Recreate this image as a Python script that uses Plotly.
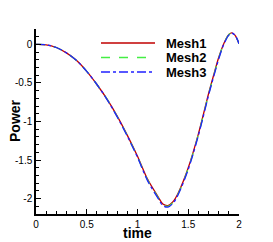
import plotly.graph_objects as go

time = [0, 0.1, 0.2, 0.3, 0.4, 0.5, 0.6, 0.7, 0.8, 0.9, 1.0, 1.1, 1.2, 1.25, 1.3,
        1.35, 1.4, 1.5, 1.6, 1.7, 1.75, 1.8, 1.85, 1.9, 1.93, 1.96, 2.0]
mesh1 = [0, -0.005, -0.04, -0.11, -0.21, -0.35, -0.52, -0.71, -0.93, -1.18, -1.45,
         -1.75, -1.97, -2.07, -2.09, -2.04, -1.93, -1.60, -1.16, -0.64, -0.40, -0.17,
         0.01, 0.13, 0.15, 0.12, 0.01]
mesh2 = [0, -0.005, -0.04, -0.11, -0.21, -0.35, -0.52, -0.71, -0.935, -1.185, -1.46,
         -1.76, -1.98, -2.08, -2.10, -2.05, -1.94, -1.61, -1.17, -0.65, -0.41, -0.18,
         0.005, 0.125, 0.148, 0.12, 0.01]
mesh3 = [0, -0.005, -0.04, -0.11, -0.21, -0.35, -0.52, -0.715, -0.94, -1.19, -1.465,
         -1.77, -1.99, -2.09, -2.11, -2.06, -1.95, -1.62, -1.18, -0.66, -0.42, -0.19,
         0.0, 0.12, 0.145, 0.12, 0.01]
series_names = ["Mesh1", "Mesh2", "Mesh3"]

x_ticks = [0, 0.5, 1, 1.5, 2]
x_labels = ["0", "0.5", "1", "1.5", "2"]
y_ticks = [0, -0.5, -1, -1.5, -2]
y_labels = ["0", "-0.5", "-1", "-1.5", "-2"]

colors = ["#c00000", "#44ee44", "#2020ff"]
dashes = ["solid", "dash", "dashdot"]
FONT = "Liberation Sans, Arial"

W, H = 273, 242
ML, MR, MT, MB = 36, 34, 29, 28
PW, PH = W - ML - MR, H - MT - MB


def px_x(px):
    return (px - ML) / PW


def px_y(py):
    return (H - MB - py) / PH


fig = go.Figure()
for name, vals, c, d in zip(series_names, [mesh1, mesh2, mesh3], colors, dashes):
    fig.add_trace(go.Scatter(x=time, y=vals, mode="lines", name=name,
                             line=dict(color=c, width=1.3, dash=d, shape="spline")))

# legend drawn manually (Tecplot style)
leg_rows = [43, 57.5, 72]
for name, c, d, ry in zip(series_names, colors, dashes, leg_rows):
    fig.add_shape(type="line", xref="paper", yref="paper",
                  x0=px_x(101), x1=px_x(155), y0=px_y(ry), y1=px_y(ry),
                  line=dict(color=c, width=1.3, dash=d))
    fig.add_annotation(xref="paper", yref="paper", x=px_x(164), y=px_y(ry),
                       xanchor="left", yanchor="middle", showarrow=False,
                       text="<b>" + name + "</b>",
                       font=dict(family=FONT, size=13, color="black"))

# axis titles
fig.add_annotation(xref="paper", yref="paper", x=px_x(137.5), y=px_y(233),
                   xanchor="center", yanchor="middle", showarrow=False,
                   text="<b>time</b>", font=dict(family=FONT, size=14, color="black"))
fig.add_annotation(xref="paper", yref="paper", x=px_x(15), y=px_y(121),
                   xanchor="center", yanchor="middle", showarrow=False, textangle=-90,
                   text="<b>Power</b>", font=dict(family=FONT, size=14, color="black"))

axis_common = dict(
    showline=True, linecolor="black", linewidth=1.5, mirror=False,
    showgrid=False, zeroline=False, automargin=False,
    ticks="inside", ticklen=5, tickwidth=1, tickcolor="black",
    tickfont=dict(family=FONT, size=10, color="black"),
)

fig.update_layout(
    width=W, height=H,
    margin=dict(l=ML, r=MR, t=MT, b=MB),
    paper_bgcolor="white", plot_bgcolor="white",
    showlegend=False,
    xaxis=dict(range=[0, 2], tickvals=x_ticks, ticktext=x_labels,
               minor=dict(ticks="inside", dtick=0.1, ticklen=3, tickcolor="black"),
               **axis_common),
    yaxis=dict(range=[-2.2, 0.2], tickvals=y_ticks, ticktext=y_labels,
               minor=dict(ticks="inside", dtick=0.1, ticklen=3, tickcolor="black"),
               **axis_common),
)

fig.write_html("out.html", config={"displayModeBar": False},
               post_script="document.body.style.margin='0';document.body.style.overflow='hidden';")
